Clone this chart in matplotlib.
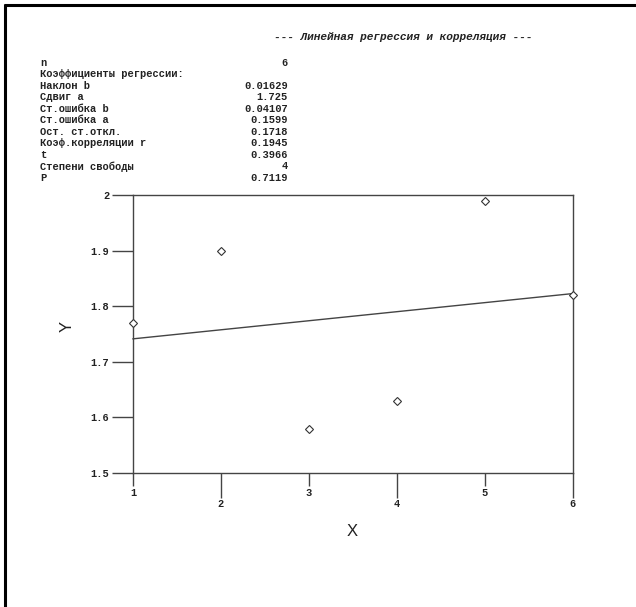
import matplotlib
matplotlib.use("Agg")
import matplotlib.pyplot as plt
from matplotlib.lines import Line2D
import numpy as np

# ---- data ----
x_vals = [1, 2, 3, 4, 5, 6]
y_vals = [1.77, 1.90, 1.58, 1.63, 1.99, 1.82]
slope_b = 0.01629
intercept_a = 1.725

title_text = "--- Линейная регрессия и корреляция ---"
stat_labels = ["n", "Коэффициенты регрессии:", "Наклон b", "Сдвиг a", "Ст.ошибка b",
               "Ст.ошибка a", "Ост. ст.откл.", "Коэф.корреляции r", "t",
               "Степени свободы", "P"]
stat_values = ["6", "", "0.01629", "1.725", "0.04107", "0.1599", "0.1718",
               "0.1945", "0.3966", "4", "0.7119"]
y_ticks = [1.5, 1.6, 1.7, 1.8, 1.9, 2.0]
y_tick_labels = ["1.5", "1.6", "1.7", "1.8", "1.9", "2"]
x_ticks_short = [1, 3, 5]
x_ticks_long = [2, 4, 6]

W, H = 636, 607
fig = plt.figure(figsize=(W / 100, H / 100), dpi=100)
fig.patch.set_facecolor("white")

# outer frame (top and left borders)
fig.add_artist(Line2D([4 / W, 1.0], [1 - 5 / H, 1 - 5 / H], transform=fig.transFigure,
                      color="black", lw=2.2, solid_capstyle="butt"))
fig.add_artist(Line2D([5 / W, 5 / W], [0.0, 1 - 4 / H], transform=fig.transFigure,
                      color="black", lw=2.2, solid_capstyle="butt"))

mono = "Liberation Mono"
fig.text(403 / W, 1 - 37 / H, title_text, family=mono, fontsize=8,
         fontweight="bold", fontstyle="italic", ha="center", va="center", color="#222222")

row_y0 = 62.5
row_dy = 11.55
for i, (lab, val) in enumerate(zip(stat_labels, stat_values)):
    yy = 1 - (row_y0 + i * row_dy) / H
    fig.text(40 / W, yy, lab, family=mono, fontsize=7.5, fontweight="bold",
             ha="left", va="center", color="#222222")
    if val:
        fig.text(288 / W, yy, val, family=mono, fontsize=7.5, fontweight="bold",
                 ha="right", va="center", color="#222222")

ax = fig.add_axes([133 / W, 1 - 473 / H, (573 - 133) / W, (473 - 195) / H])
ax.set_xlim(1, 6)
ax.set_ylim(1.5, 2.0)
for s in ax.spines.values():
    s.set_color("#444444")
    s.set_linewidth(1.0)

# regression line
xl = np.array([min(x_vals), max(x_vals)], dtype=float)
ax.plot(xl, intercept_a + slope_b * xl, color="#444444", lw=1.0, clip_on=False)
# data points
ax.plot(x_vals, y_vals, linestyle="none", marker="D", markersize=4,
        markerfacecolor="white", markeredgecolor="#333333", markeredgewidth=0.8,
        clip_on=False, zorder=5)

ax.set_yticks(y_ticks)
ax.set_yticklabels(y_tick_labels)
ax.tick_params(axis="y", direction="out", length=15, width=1.0, color="#444444",
               pad=2, labelsize=7.5, labelcolor="#222222")
for t in ax.get_yticklabels():
    t.set_family(mono)
    t.set_fontweight("bold")

ax.set_xticks(x_ticks_short)
ax.set_xticklabels([str(v) for v in x_ticks_short])
ax.set_xticks(x_ticks_long, minor=True)
ax.set_xticklabels([str(v) for v in x_ticks_long], minor=True)
ax.tick_params(axis="x", which="major", direction="out", length=9.5, width=1.0,
               color="#444444", pad=1, labelsize=7.5, labelcolor="#222222")
ax.tick_params(axis="x", which="minor", direction="out", length=18, width=1.0,
               color="#444444", pad=1, labelsize=7.5, labelcolor="#222222")
for t in ax.get_xticklabels() + ax.get_xticklabels(minor=True):
    t.set_family(mono)
    t.set_fontweight("bold")

fig.text(352 / W, 1 - 531 / H, "X", family="Liberation Sans", fontsize=12,
         ha="center", va="center", color="#222222")
fig.text(67 / W, 1 - 326 / H, "Y", family="Liberation Sans", fontsize=12,
         rotation=90, ha="center", va="center", color="#222222")

fig.savefig("out.png", dpi=100, facecolor="white")
